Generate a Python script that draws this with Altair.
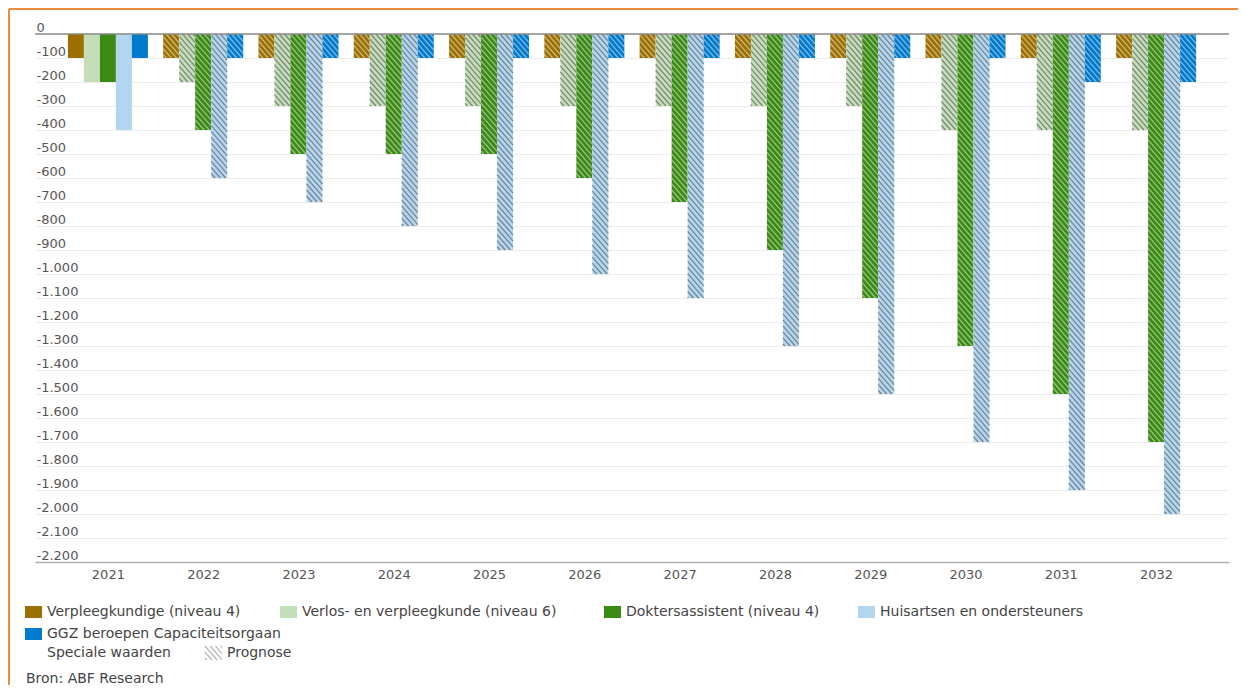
import altair as alt
import pandas as pd
import numpy as np

# ---------------- data ----------------
years = [2021, 2022, 2023, 2024, 2025, 2026, 2027, 2028, 2029, 2030, 2031, 2032]
series = [
    "Verpleegkundige (niveau 4)",
    "Verlos- en verpleegkunde (niveau 6)",
    "Doktersassistent (niveau 4)",
    "Huisartsen en ondersteuners",
    "GGZ beroepen Capaciteitsorgaan",
]
verpleegkundige = [-100, -100, -100, -100, -100, -100, -100, -100, -100, -100, -100, -100]
verlos = [-200, -200, -300, -300, -300, -300, -300, -300, -300, -400, -400, -400]
doktersassistent = [-200, -400, -500, -500, -500, -600, -700, -900, -1100, -1300, -1500, -1700]
huisartsen = [-400, -600, -700, -800, -900, -1000, -1100, -1300, -1500, -1700, -1900, -2000]
ggz = [-100, -100, -100, -100, -100, -100, -100, -100, -100, -100, -200, -200]
prognose = [False, True, True, True, True, True, True, True, True, True, True, True]
y_ticks = [0, -100, -200, -300, -400, -500, -600, -700, -800, -900, -1000, -1100,
           -1200, -1300, -1400, -1500, -1600, -1700, -1800, -1900, -2000, -2100, -2200]
legend_extra = ["Speciale waarden", "Prognose"]
source = "Bron: ABF Research"

# ---------------- style / layout ----------------
colors = ["#9b7000", "#c5deba", "#3a8a14", "#b2d6f0", "#007acc"]
light_series = {1, 3}
FONT = "DejaVu Sans"
W, H = 1194, 528
X_MIN, X_MAX = 2020.235, 2032.765
Y_MIN, Y_MAX = -2200, 0
PXY = W / (X_MAX - X_MIN)          # pixels per year
PXU = H / (Y_MAX - Y_MIN)          # pixels per unit
BAR_PX = 16.0
BAR_W = BAR_PX / PXY               # bar width in years
M, S = 1.15, 6.0                   # hatch slope and vertical period (px)

all_values = [verpleegkundige, verlos, doktersassistent, huisartsen, ggz]

rows = []
for yi, yr in enumerate(years):
    for si, name in enumerate(series):
        x0 = yr + (si - 2.5) * BAR_W
        rows.append(dict(year=yr, series=name, idx=si, value=all_values[si][yi],
                         x0=x0, x1=x0 + BAR_W, prognose=prognose[yi]))
bars = pd.DataFrame(rows)


def hatch_segments(px_left, w, hb):
    segs = []
    c = -((M * px_left) % S)
    c -= S * np.ceil(M * w / S)
    while c < hb:
        a = max(0.0, -c / M)
        b = min(w, (hb - c) / M)
        if b - a > 0.3:
            segs.append((a, c + M * a, b, c + M * b))
        c += S
    return segs


hrows = []
for r in bars.itertuples():
    if not r.prognose:
        continue
    px_left = (r.x0 - X_MIN) * PXY
    hb = -r.value * PXU
    tone = "onlight" if r.idx in light_series else "ondark"
    for (a, ya, b, yb) in hatch_segments(px_left, BAR_PX, hb):
        hrows.append(dict(x0=r.x0 + a / PXY, x1=r.x0 + b / PXY,
                          value=-ya / PXU, value2=-yb / PXU, tone=tone))
hatch = pd.DataFrame(hrows)

xs = alt.Scale(domain=[X_MIN, X_MAX], nice=False, zero=False)
ys = alt.Scale(domain=[Y_MIN, Y_MAX], nice=False, zero=False)

label_expr = ("datum.value == 0 ? '0' : '-' + "
              "replace(format(abs(datum.value), ','), ',', '.')")

x_axis = alt.Axis(
    values=years, format="d", title=None, grid=False, ticks=False,
    labelPadding=6, labelFontSize=13, labelColor="#555", labelFont=FONT,
    labelFlush=False, labelOverlap=False,
    domainColor="#b0b0b0", domainWidth=1.5)
y_axis = alt.Axis(
    values=y_ticks, title=None, domain=False, ticks=False, grid=True,
    gridColor="#ececec", gridWidth=1, labelAlign="left",
    labelBaseline="alphabetic", labelPadding=-1, labelOffset=-3,
    labelFontSize=13, labelColor="#555", labelFont=FONT,
    labelFlush=False, labelOverlap=False, labelExpr=label_expr)

X = alt.X("x0:Q", scale=xs, axis=x_axis)
Y = alt.Y("value:Q", scale=ys, axis=y_axis)

bar_layer = alt.Chart(bars).mark_rect().encode(
    x=X, x2="x1:Q", y=Y, y2=alt.datum(0),
    color=alt.Color("series:N", scale=alt.Scale(domain=series, range=colors),
                    legend=None),
)

hatch_dark = alt.Chart(hatch[hatch.tone == "onlight"]).mark_rule(
    color="#4a4a4a", strokeWidth=1.2, opacity=0.6).encode(
    x=X, x2="x1:Q", y=Y, y2="value2:Q")
hatch_light = alt.Chart(hatch[hatch.tone == "ondark"]).mark_rule(
    color="#ffffff", strokeWidth=1.2, opacity=0.5).encode(
    x=X, x2="x1:Q", y=Y, y2="value2:Q")

zero_line = alt.Chart(pd.DataFrame({"value": [0]})).mark_rule(
    color="#8a8a8a", strokeWidth=1.5).encode(
    y=Y, x=alt.value(0), x2=alt.value(W))

layers = [bar_layer, hatch_dark, hatch_light, zero_line]

# ---------------- manual legend ----------------
txt = dict(font=FONT, fontSize=14, color="#444", align="left", baseline="middle")
leg_pos = [(-10, 578), (245, 578), (569, 578), (823, 578), (-10, 600)]
for i, name in enumerate(series):
    lx, ly = leg_pos[i]
    d = pd.DataFrame({"t": [name]})
    layers.append(alt.Chart(d).mark_rect(color=colors[i]).encode(
        x=alt.value(lx), x2=alt.value(lx + 17),
        y=alt.value(ly - 6), y2=alt.value(ly + 6)))
    layers.append(alt.Chart(d).mark_text(**txt).encode(
        x=alt.value(lx + 22), y=alt.value(ly), text="t:N"))

layers.append(alt.Chart(pd.DataFrame({"t": [legend_extra[0]]})).mark_text(**txt).encode(
    x=alt.value(12), y=alt.value(619), text="t:N"))
layers.append(alt.Chart(pd.DataFrame({"t": [legend_extra[1]]})).mark_text(**txt).encode(
    x=alt.value(192), y=alt.value(619), text="t:N"))
# hatch icon for "Prognose"
ix, iy, iw, ih = 170, 612, 17, 14
for (a, ya, b, yb) in hatch_segments(0, iw, ih):
    layers.append(alt.Chart(pd.DataFrame({"t": [0]})).mark_rule(
        color="#b5b5b5", strokeWidth=1.2).encode(
        x=alt.value(ix + a), x2=alt.value(ix + b),
        y=alt.value(iy + ya), y2=alt.value(iy + yb)))

layers.append(alt.Chart(pd.DataFrame({"t": [source]})).mark_text(**txt).encode(
    x=alt.value(-9), y=alt.value(645), text="t:N"))

# orange frame (top and left edges visible)
frame = pd.DataFrame({"t": [0]})
layers.append(alt.Chart(frame).mark_rule(color="#f08a3c", strokeWidth=2).encode(
    x=alt.value(-26), x2=alt.value(W + 9), y=alt.value(-25)))
layers.append(alt.Chart(frame).mark_rule(color="#f08a3c", strokeWidth=2).encode(
    x=alt.value(-26), y=alt.value(-25), y2=alt.value(H + 123)))

chart = alt.layer(*layers).properties(
    width=W, height=H,
    padding={"left": 27, "top": 26, "right": 9, "bottom": 123},
    autosize=alt.AutoSizeParams(type="none"),
).configure_view(stroke=None)

chart.save("out.html", embed_options={"renderer": "svg", "actions": False})
